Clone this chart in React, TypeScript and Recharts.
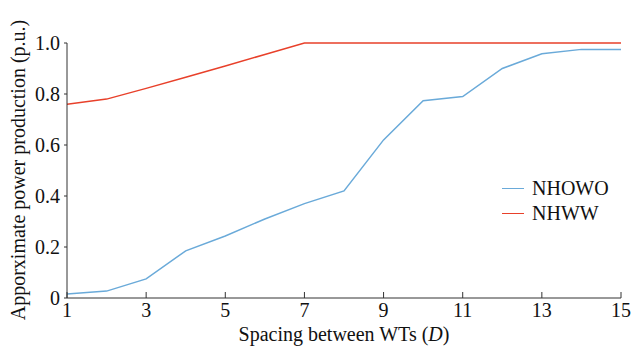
import { LineChart, Line, XAxis, YAxis } from "recharts";

const spacing = [1, 2, 3, 4, 5, 6, 7, 8, 9, 10, 11, 12, 13, 14, 15];
const nhowo = [0.016, 0.027, 0.075, 0.185, 0.243, 0.31, 0.37, 0.42, 0.62, 0.774, 0.79, 0.9, 0.958, 0.975, 0.975];
const nhww = [0.76, 0.78, 0.822, 0.866, 0.91, 0.955, 1.0, 1.0, 1.0, 1.0, 1.0, 1.0, 1.0, 1.0, 1.0];
const xTicks = [1, 3, 5, 7, 9, 11, 13, 15];
const yTicks = [0, 0.2, 0.4, 0.6, 0.8, 1.0];

const BLUE = "#6aaad9";
const RED = "#e8402a";
const AXIS = "#333";
const FONT = "Liberation Serif, Times New Roman, serif";

const data = spacing.map((s, i) => ({ s, nhowo: nhowo[i], nhww: nhww[i] }));

const legendItems = [
  { label: "NHOWO", color: BLUE },
  { label: "NHWW", color: RED },
];

function renderXTick(props: any) {
  const { x, y, payload } = props;
  return (
    <text key={`x-${payload.value}`} x={x} y={y + 17} textAnchor="middle" fill="#111" style={{ fontSize: 20, fontFamily: FONT }}>
      {payload.value}
    </text>
  );
}

function renderYTick(props: any) {
  const { x, y, payload } = props;
  const v = payload.value as number;
  return (
    <text key={`y-${v}`} x={x} y={y + 7} textAnchor="end" fill="#111" style={{ fontSize: 20, fontFamily: FONT }}>
      {v === 0 ? "0" : v.toFixed(1)}
    </text>
  );
}

function LegendBox() {
  return (
    <div style={{ position: "absolute", left: 502, top: 176, fontSize: 20, color: "#111" }}>
      {legendItems.map((it) => (
        <div key={it.label} style={{ display: "flex", alignItems: "center", height: 25 }}>
          <span style={{ width: 22, height: 0, borderTop: `1.5px solid ${it.color}`, marginRight: 8 }} />
          <span>{it.label}</span>
        </div>
      ))}
    </div>
  );
}

export default function App() {
  return (
    <div
      style={{
        position: "absolute",
        left: 0,
        top: 0,
        width: 633,
        height: 349,
        background: "#fff",
        fontFamily: FONT,
      }}
    >
      <LineChart width={633} height={349} data={data} margin={{ top: 43, right: 12, bottom: 21, left: 0 }}>
        <XAxis
          dataKey="s"
          type="number"
          domain={[1, 15]}
          ticks={xTicks}
          height={30}
          allowDataOverflow
          stroke={AXIS}
          tickSize={-6}
          tickMargin={8}
          tick={renderXTick}
          label={{
            content: () => (
              <text x={344} y={341} textAnchor="middle" fill="#111" style={{ fontSize: 20, fontFamily: FONT }}>
                Spacing between WTs (<tspan fontStyle="italic">D</tspan>)
              </text>
            ),
          }}
        />
        <YAxis
          type="number"
          domain={[0, 1]}
          ticks={yTicks}
          width={67}
          stroke={AXIS}
          tickSize={3}
          tickMargin={4}
          tick={renderYTick}
          label={{
            content: () => (
              <text
                x={20}
                y={170}
                transform="rotate(-90 20 170)"
                textAnchor="middle"
                dominantBaseline="middle"
                fill="#111"
                style={{ fontSize: 20, fontFamily: FONT }}
              >
                Apporximate power production (p.u.)
              </text>
            ),
          }}
        />
        <Line dataKey="nhowo" stroke={BLUE} strokeWidth={1.5} dot={false} isAnimationActive={false} />
        <Line dataKey="nhww" stroke={RED} strokeWidth={1.5} dot={false} isAnimationActive={false} />
      </LineChart>
      <LegendBox />
    </div>
  );
}
